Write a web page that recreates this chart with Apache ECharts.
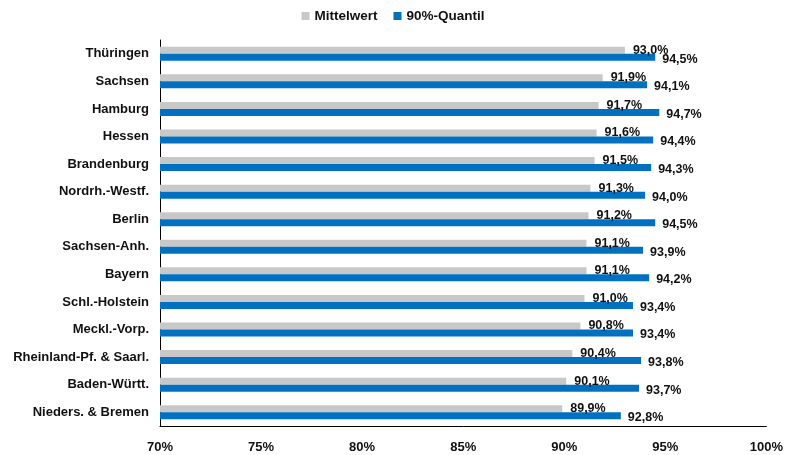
<!DOCTYPE html>
<html><head><meta charset="utf-8">
<script src="https://cdn.jsdelivr.net/npm/echarts@6/dist/echarts.min.js"></script>
<style>html,body{margin:0;padding:0;background:#fff}#c{width:786px;height:455px}</style>
</head><body><div id="c"></div>
<script>
const categories = ["Thüringen","Sachsen","Hamburg","Hessen","Brandenburg","Nordrh.-Westf.","Berlin","Sachsen-Anh.","Bayern","Schl.-Holstein","Meckl.-Vorp.","Rheinland-Pf. & Saarl.","Baden-Württ.","Nieders. & Bremen"];
const mittelwert = [93.0,91.9,91.7,91.6,91.5,91.3,91.2,91.1,91.1,91.0,90.8,90.4,90.1,89.9];
const quantil90 = [94.5,94.1,94.7,94.4,94.3,94.0,94.5,93.9,94.2,93.4,93.4,93.8,93.7,92.8];
const seriesNames = ["Mittelwert","90%-Quantil"];
const xTicks = [70,75,80,85,90,95,100];

const fmt = v => v.toFixed(1).replace('.', ',') + '%';
const font = 'Liberation Sans, Arial, sans-serif';
const chart = echarts.init(document.getElementById('c'));
chart.setOption({
  animation:false,
  textStyle:{fontFamily:font},
  legend:{top:4,left:'center',itemWidth:8,itemHeight:8,itemGap:16,icon:'rect',
    textStyle:{fontWeight:'bold',fontSize:13.5,color:'#111',fontFamily:font},
    data:seriesNames},
  grid:{left:160,right:19,top:40,bottom:29,containLabel:false},
  xAxis:{type:'value',min:xTicks[0],max:xTicks[xTicks.length-1],interval:5,
    axisLine:{show:true,lineStyle:{color:'#000',width:1}},axisTick:{show:false},
    splitLine:{show:false},
    axisLabel:{margin:15,fontWeight:'bold',fontSize:13,color:'#111',fontFamily:font,formatter:v=>v+'%'}},
  yAxis:{type:'category',data:categories,inverse:true,
    axisLine:{show:true,lineStyle:{color:'#000',width:1}},axisTick:{show:false},
    axisLabel:{margin:11,fontWeight:'bold',fontSize:13,color:'#111',fontFamily:font}},
  series:[
    {name:seriesNames[0],type:'bar',data:mittelwert,barWidth:7,barGap:'0%',
     itemStyle:{color:'#C8C8C8'},
     label:{show:true,position:'right',distance:8,offset:[0,0],fontWeight:'bold',fontSize:12.5,color:'#111',fontFamily:font,formatter:p=>fmt(p.value)}},
    {name:seriesNames[1],type:'bar',data:quantil90,barWidth:7,barGap:'0%',
     itemStyle:{color:'#0070C0'},
     label:{show:true,position:'right',distance:7,offset:[0,2],fontWeight:'bold',fontSize:12.5,color:'#111',fontFamily:font,formatter:p=>fmt(p.value)}}
  ]
});
</script></body></html>
